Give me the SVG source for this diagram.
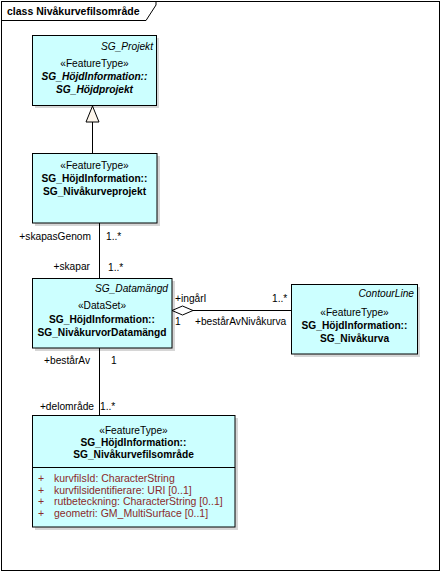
<svg xmlns="http://www.w3.org/2000/svg" width="441" height="572" viewBox="0 0 441 572">
<style>
text{font-family:"Liberation Sans",Arial,sans-serif;font-size:10.2px;fill:#000}
.c{text-anchor:middle}
.r{text-anchor:end}
.b{font-weight:bold}
.i{font-style:italic}
.box{fill:#CCFFFF;stroke:#000;stroke-width:1}
.sh{fill:#000;opacity:0.16}
.ln{stroke:#000;stroke-width:1;fill:none}
.at{fill:#8B2A2A;font-size:10.5px}
</style>
<rect x="0" y="0" width="441" height="572" fill="#fff"/>
<g id="frame">
<rect x="1.5" y="1.5" width="438" height="569" fill="none" stroke="#000"/>
<path d="M1.5,20.5 H146 L156,5 V1.5" fill="none" stroke="#000"/>
<text x="7" y="15" class="b" style="font-size:10.5px">class Nivåkurvefilsområde</text>
</g>
<g id="connectors">
<line class="ln" x1="92.5" y1="122" x2="92.5" y2="153"/>
<polygon points="92.5,106 86,122 99,122" fill="#FDF6EC" stroke="#000"/>
<line class="ln" x1="99.5" y1="223" x2="99.5" y2="278"/>
<line class="ln" x1="99.5" y1="348" x2="99.5" y2="415"/>
<line class="ln" x1="193" y1="310.5" x2="291" y2="310.5"/>
<polygon points="172,310.5 182.5,306 193,310.5 182.5,315" fill="#fff" stroke="#000"/>
<text x="91" y="240" class="r">+skapasGenom</text>
<text x="106" y="240">1..*</text>
<text x="90" y="270" class="r">+skapar</text>
<text x="108" y="271">1..*</text>
<text x="90" y="364" class="r">+bestårAv</text>
<text x="111" y="364">1</text>
<text x="94" y="410" class="r">+delområde</text>
<text x="100" y="410">1..*</text>
<text x="175" y="302">+ingårI</text>
<text x="272" y="302">1..*</text>
<text x="175" y="325">1</text>
<text x="195" y="325">+bestårAvNivåkurva</text>
</g>
<g id="SG_Hojdprojekt">
<rect class="sh" x="35" y="38" width="124" height="70"/>
<rect class="box" x="32.5" y="35.5" width="124" height="70"/>
<text x="153" y="50" class="r i">SG_Projekt</text>
<text x="94.5" y="67" class="c">«FeatureType»</text>
<text x="94.5" y="80" class="c b i">SG_HöjdInformation::</text>
<text x="94.5" y="93" class="c b i">SG_Höjdprojekt</text>
</g>
<g id="SG_Nivakurveprojekt">
<rect class="sh" x="35" y="156" width="125" height="70"/>
<rect class="box" x="32.5" y="153.5" width="124.5" height="69.5"/>
<text x="94.5" y="169" class="c">«FeatureType»</text>
<text x="94.5" y="182" class="c b">SG_HöjdInformation::</text>
<text x="94.5" y="195" class="c b">SG_Nivåkurveprojekt</text>
</g>
<g id="SG_NivakurvorDatamangd">
<rect class="sh" x="35" y="281" width="140" height="70"/>
<rect class="box" x="32.5" y="278.5" width="139.5" height="69.5"/>
<text x="168" y="292" class="r i">SG_Datamängd</text>
<text x="102" y="309" class="c">«DataSet»</text>
<text x="102" y="323" class="c b">SG_HöjdInformation::</text>
<text x="102" y="336" class="c b">SG_NivåkurvorDatamängd</text>
</g>
<g id="SG_Nivakurva">
<rect class="sh" x="294" y="287" width="126" height="70"/>
<rect class="box" x="291.5" y="284.5" width="126" height="69.5"/>
<text x="414" y="297" class="r i">ContourLine</text>
<text x="354.5" y="316" class="c">«FeatureType»</text>
<text x="354.5" y="329" class="c b">SG_HöjdInformation::</text>
<text x="354.5" y="342" class="c b">SG_Nivåkurva</text>
</g>
<g id="SG_Nivakurvefilsomrade">
<rect class="sh" x="35" y="418" width="203" height="112"/>
<rect class="box" x="32.5" y="415.5" width="202.5" height="111.5"/>
<text x="133.5" y="434" class="c">«FeatureType»</text>
<text x="133.5" y="446" class="c b">SG_HöjdInformation::</text>
<text x="133.5" y="458" class="c b">SG_Nivåkurvefilsområde</text>
<line class="ln" x1="32.5" y1="467.5" x2="235" y2="467.5"/>
<text x="38" y="482" class="at">+</text>
<text x="54" y="482" class="at">kurvfilsId: CharacterString</text>
<text x="38" y="493.5" class="at">+</text>
<text x="54" y="493.5" class="at">kurvfilsidentifierare: URI [0..1]</text>
<text x="38" y="505" class="at">+</text>
<text x="54" y="505" class="at">rutbeteckning: CharacterString [0..1]</text>
<text x="38" y="516.5" class="at">+</text>
<text x="54" y="516.5" class="at">geometri: GM_MultiSurface [0..1]</text>
</g>
</svg>
